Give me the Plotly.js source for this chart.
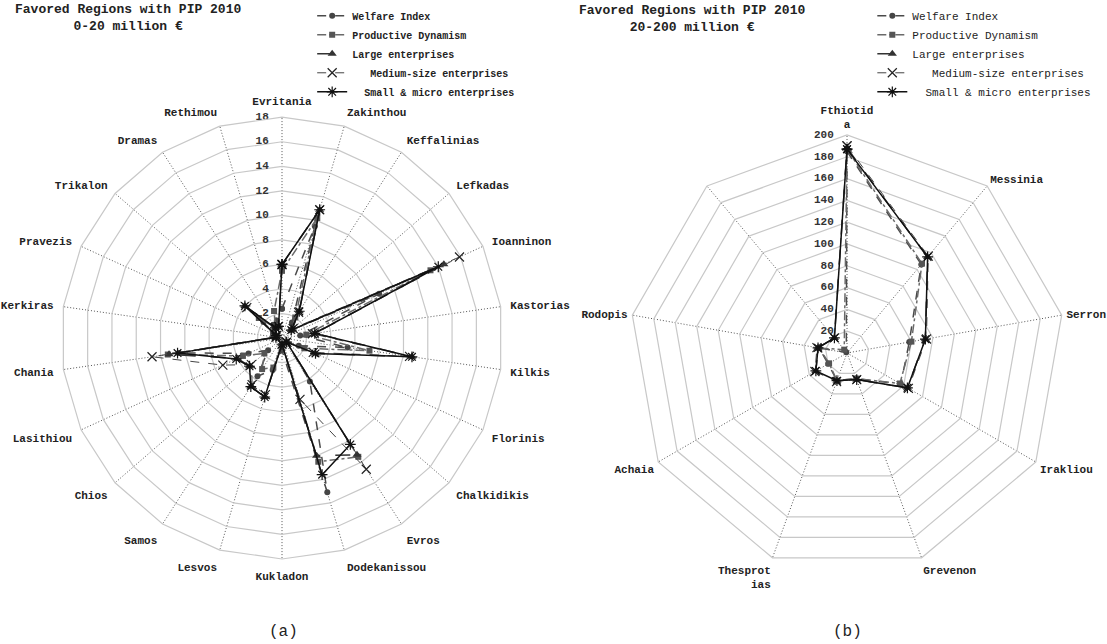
<!DOCTYPE html>
<html><head><meta charset="utf-8">
<script src="https://cdn.plot.ly/plotly-3.0.1.min.js"></script>
<style>html,body{margin:0;padding:0;background:#fff}#chart{width:1107px;height:644px}</style>
</head><body><div id="chart"></div>
<script>
const seriesNames = ["Welfare Index", "Productive Dynamism", "Large enterprises", "Medium-size enterprises", "Small & micro enterprises"];

const categoriesA = ["Evritania","Zakinthou","Keffalinias","Lefkadas","Ioanninon","Kastorias","Kilkis","Florinis","Chalkidikis","Evros","Dodekanissou","Kukladon","Lesvos","Samos","Chios","Lasithiou","Chania","Kerkiras","Pravezis","Trikalon","Dramas","Rethimou"];
const welfareA    = [2.4, 9.5, 1.5, 1.0, 8.7, 1.5, 5.4, 1.5, 0.5, 4.2, 13.1, 1.0, 2.7, 3.7, 1.5, 3.0, 8.5, 0.5, 0.8, 2.0, 1.3, 1.5];
const productiveA = [5.5, 10.2, 2.0, 1.0, 13.3, 2.0, 7.2, 2.0, 0.5, 11.5, 10.5, 0.5, 2.5, 3.0, 1.9, 3.5, 9.4, 0.5, 0.8, 2.5, 1.0, 2.3];
const largeA      = [6.0, 10.9, 2.6, 1.0, 14.5, 2.7, 10.7, 3.0, 0.5, 11.3, 10.0, 0.5, 5.0, 4.7, 3.5, 4.0, 9.3, 0.5, 0.5, 4.0, 1.0, 1.0];
const mediumA     = [6.0, 10.9, 2.5, 1.2, 15.9, 2.5, 10.5, 2.8, 0.5, 12.7, 5.2, 0.5, 4.8, 4.5, 3.3, 5.3, 10.7, 0.5, 0.5, 3.8, 1.0, 1.0];
const smallA      = [6.0, 10.9, 2.6, 1.0, 14.0, 2.7, 10.7, 3.0, 0.5, 10.3, 11.6, 0.5, 5.0, 4.7, 3.5, 4.1, 8.6, 0.5, 0.5, 4.0, 1.0, 1.0];
const radialTicksA = [0, 2, 4, 6, 8, 10, 12, 14, 16, 18];

const categoriesB = ["Fthiotid<br>a","Messinia","Serron","Irakliou","Grevenon","Thesprot<br>ias","Achaia","Rodopis"," "];
const welfareB    = [185, 106, 58, 57, 25, 27, 20, 26, 1];
const productiveB = [187, 107, 60, 56, 25, 27, 19, 26, 4];
const largeB      = [188, 115, 73, 64, 26, 27, 33, 27, 18];
const mediumB     = [190, 116, 74, 65, 26, 28, 34, 28, 18];
const smallB      = [187, 115, 73, 64, 26, 27, 33, 27, 18];
const radialTicksB = [0, 20, 40, 60, 80, 100, 120, 140, 160, 180, 200];

const styles = [
  {marker:{symbol:'circle', size:6, color:'#454545'}, line:{dash:'dash', color:'#4a4a4a', width:1.5}},
  {marker:{symbol:'square', size:6, color:'#555555'}, line:{dash:'dashdot', color:'#6a6a6a', width:1.5}},
  {marker:{symbol:'triangle-up', size:8, color:'#333333'}, line:{dash:'longdash', color:'#333333', width:1.5}},
  {marker:{symbol:'x-thin-open', size:9, color:'#222222', line:{width:1.2, color:'#222222'}}, line:{dash:'dash', color:'#444444', width:1}},
  {marker:{symbol:'asterisk-open', size:9, color:'#111111', line:{width:1.2, color:'#111111'}}, line:{dash:'solid', color:'#111111', width:1.5}}
];

const mono = 'Liberation Mono, Courier New, monospace';

function closed(a){ return a.concat([a[0]]); }

const traces = [];
function tickTrace(ticks, cats, subplot){
  return {type:'scatterpolar', mode:'text', subplot:subplot, showlegend:false, hoverinfo:'skip',
    r: ticks, theta: ticks.map(() => cats[0]),
    text: ticks.map(t => String(t) + '\u00a0\u00a0'), textposition:'middle left', cliponaxis:false,
    textfont:{family:mono, size:11, color:'#333', weight:'bold'}};
}
traces.push(tickTrace(radialTicksA, categoriesA, 'polar'));
traces.push(tickTrace(radialTicksB, categoriesB, 'polar2'));

const groupA = [];
[welfareA, productiveA, largeA, mediumA, smallA].forEach((vals, i) => {
  groupA.push(Object.assign({
    type:'scatterpolar', mode:'lines+markers', name:seriesNames[i],
    r: closed(vals), theta: closed(categoriesA), subplot:'polar', legend:'legend'
  }, JSON.parse(JSON.stringify(styles[i]))));
});
const groupB = [];
[welfareB, productiveB, largeB, mediumB, smallB].forEach((vals, i) => {
  groupB.push(Object.assign({
    type:'scatterpolar', mode:'lines+markers', name:seriesNames[i],
    r: closed(vals), theta: closed(categoriesB), subplot:'polar2', legend:'legend2'
  }, JSON.parse(JSON.stringify(styles[i]))));
});
[groupA, groupB].forEach(g => {
  g[3].name = '\u00a0\u00a0\u00a0' + seriesNames[3];
  g[4].name = '\u00a0\u00a0' + seriesNames[4];
  g.forEach(t => traces.push(t));
});

function polarCfg(domain, range, dtick, tlen){
  return {
    domain: domain, gridshape:'linear', bgcolor:'#ffffff',
    radialaxis:{range:range, dtick:dtick, angle:90, showticklabels:false,
      showline:false, ticks:'', gridcolor:'#c8c8c8', gridwidth:1.2},
    angularaxis:{rotation:90, direction:'clockwise', gridcolor:'#555', griddash:'1px,2px', gridwidth:1,
      showline:true, linecolor:'#c8c8c8', linewidth:1.2, ticks:'outside', ticklen:tlen, tickcolor:'rgba(0,0,0,0)',
      tickfont:{family:mono, size:11, color:'#222', weight:'bold'}}
  };
}

const layout = {
  width:1107, height:644, margin:{l:0,r:0,t:0,b:0}, paper_bgcolor:'#fff',
  showlegend:true,
  polar: polarCfg({x:[0.0551,0.4544], y:[0.132,0.818]}, [0,18], 2, 7),
  polar2: polarCfg({x:[0.5682,0.9621], y:[0.1134,0.7904]}, [0,200], 20, 2),
  legend:{x:0.282, y:0.998, xanchor:'left', yanchor:'top', bgcolor:'rgba(0,0,0,0)', itemwidth:30,
    font:{family:mono, size:10, color:'#222', weight:'bold'}},
  legend2:{x:0.788, y:0.998, xanchor:'left', yanchor:'top', bgcolor:'rgba(0,0,0,0)', itemwidth:30,
    font:{family:mono, size:11, color:'#222'}},
  annotations:[
    {text:'Favored Regions with PIP 2010<br>0-20 million \u20ac', x:0.1156, y:1, xref:'paper', yref:'paper', xanchor:'center', yanchor:'top', showarrow:false, font:{family:mono, size:13, color:'#222', weight:'bold'}},
    {text:'Favored Regions with PIP 2010<br>20-200 million \u20ac', x:0.625, y:0.998, xref:'paper', yref:'paper', xanchor:'center', yanchor:'top', showarrow:false, font:{family:mono, size:13, color:'#222', weight:'bold'}},
    {text:'(a)', x:0.2557, y:0.0186, xref:'paper', yref:'paper', xanchor:'center', yanchor:'middle', showarrow:false, font:{family:mono, size:16, color:'#222'}},
    {text:'(b)', x:0.766, y:0.0186, xref:'paper', yref:'paper', xanchor:'center', yanchor:'middle', showarrow:false, font:{family:mono, size:16, color:'#222'}}
  ]
};

Plotly.newPlot('chart', traces, layout, {displayModeBar:false, staticPlot:true});
</script></body></html>
